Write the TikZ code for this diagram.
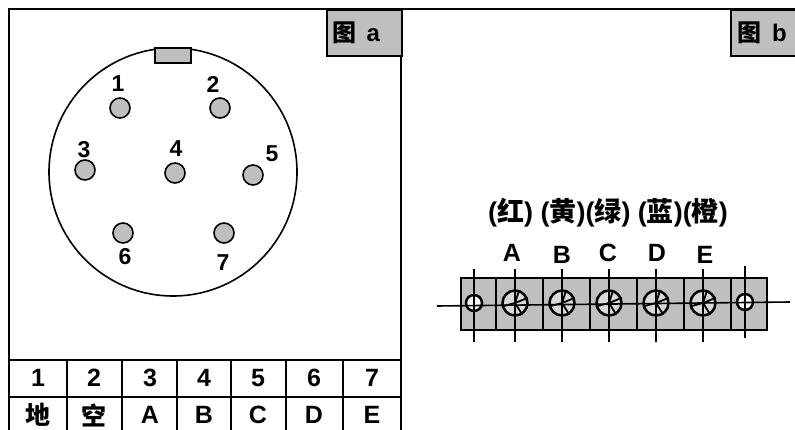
\documentclass[tikz,border=0pt]{standalone}
\usepackage{fontspec}
\setmainfont{Liberation Sans}
\newfontfamily\cjk{Noto Sans CJK SC}
\tikzset{
  frameline/.style = {line width=2pt, black},
  tag/.style = {draw, line width=2pt, fill=black!25, font=\bfseries\fontsize{24}{26}\selectfont, inner sep=0pt},
  pin/.style = {shape=circle, draw, line width=1.6pt, fill=black!25, minimum size=20pt, inner sep=0pt},
  pinlabel/.style = {font=\bfseries\fontsize{23}{25}\selectfont, inner sep=0pt},
  cell/.style = {font=\bfseries\fontsize{25}{27}\selectfont, inner sep=0pt},
  screw/.style = {shape=circle, draw, line width=2.5pt, fill=black!15, minimum size=25pt, inner sep=0pt},
  hole/.style = {shape=circle, draw, line width=2.5pt, fill=white, minimum size=16pt, inner sep=0pt},
  wire/.style = {line width=1.6pt},
  termlabel/.style = {font=\bfseries\fontsize{25}{27}\selectfont, inner sep=0pt}
}
\begin{document}
\begin{tikzpicture}[x=1pt, y=-1pt]
    \useasboundingbox (0,0) rectangle (795,430);
    % frames
    \draw[frameline] (9,430) -- (9,9) -- (795,9);
    \draw[frameline] (401,9) -- (401,430);
    \node[tag, minimum width=75pt, minimum height=46pt, anchor=north west] (taga) at (326,9) {{\cjk 图}\hspace{3pt} a\hspace{16pt}\null};
    \node[tag, minimum width=66pt, minimum height=46pt, anchor=north west] (tagb) at (730,9) {{\cjk 图}\hspace{4pt} b\hspace{4pt}\null};
    % plug
    \draw[line width=1.6pt] (173,172) circle (124pt);
    \node[draw, line width=1.6pt, fill=black!25, minimum width=36pt, minimum height=15pt, inner sep=0pt] (key) at (173,55.5) {};
    \foreach \name/\x/\y/\lx/\ly in {1/120/108/118/84, 2/220/108/213/84, 3/85/170/84/150, 4/175/173/176/149,
                                     5/253/175/272/154, 6/123/233/125/257, 7/224/233/223/263} {
        \node[pin] (pin\name) at (\x,\y) {};
        \node[pinlabel] (num\name) at (\lx,\ly) {\name};
    }
    % table
    \draw[frameline] (9,360) -- (401,360);
    \draw[frameline] (9,397) -- (401,397);
    \foreach \x in {67,122,177,231,286,343} {
        \draw[frameline] (\x,360) -- (\x,430);
    }
    \foreach \name/\x/\val in {1/38/{\cjk 地}, 2/94/{\cjk 空}, 3/150/A, 4/204/B, 5/258/C, 6/314/D, 7/372/E} {
        \node[cell] (top\name) at (\x,378) {\name};
        \node[cell] (bot\name) at (\x,415) {\val};
    }
    % terminal block
    \node[draw, line width=2pt, fill=black!25, minimum width=306pt, minimum height=52pt, inner sep=0pt] (block) at (614,304) {};
    \foreach \x in {496,543,590,637,684,731} {
        \draw[frameline] (\x,278) -- (\x,330);
    }
    \node[hole] (holel) at (474,303) {};
    \node[hole] (holer) at (745,302) {};
    \foreach \name/\x in {A/515, B/562, C/609, D/656, E/703} {
        \node[screw] (scr\name) at (\x,303) {};
        \foreach \ang in {72,22,-58,195} {
            \draw[line width=1.8pt] (scr\name.center) -- (scr\name.\ang);
        }
        \coordinate (up\name) at (\x,269);
        \coordinate (dn\name) at (\x,342);
        \draw[wire] (up\name) -- (dn\name);
    }
    \coordinate (upl) at (474,269); \coordinate (dnl) at (474,342);
    \coordinate (upr) at (745,266); \coordinate (dnr) at (745,338);
    \draw[wire] (upl) -- (dnl);
    \draw[wire] (upr) -- (dnr);
    \coordinate (wirel) at (437,306); \coordinate (wirer) at (790,302);
    \draw[wire] (wirel) -- (wirer);
    % labels
    \foreach \name/\x/\y in {A/512/253, B/562/255, C/608/253, D/657/253, E/705/255} {
        \node[termlabel] (lab\name) at (\x,\y) {\name};
    }
    \node[font=\bfseries\fontsize{27}{29}\selectfont, inner sep=0pt] (colors) at (608,213)
        {({\cjk 红}) ({\cjk 黄})({\cjk 绿}) ({\cjk 蓝})({\cjk 橙})};
\end{tikzpicture}
\end{document}
